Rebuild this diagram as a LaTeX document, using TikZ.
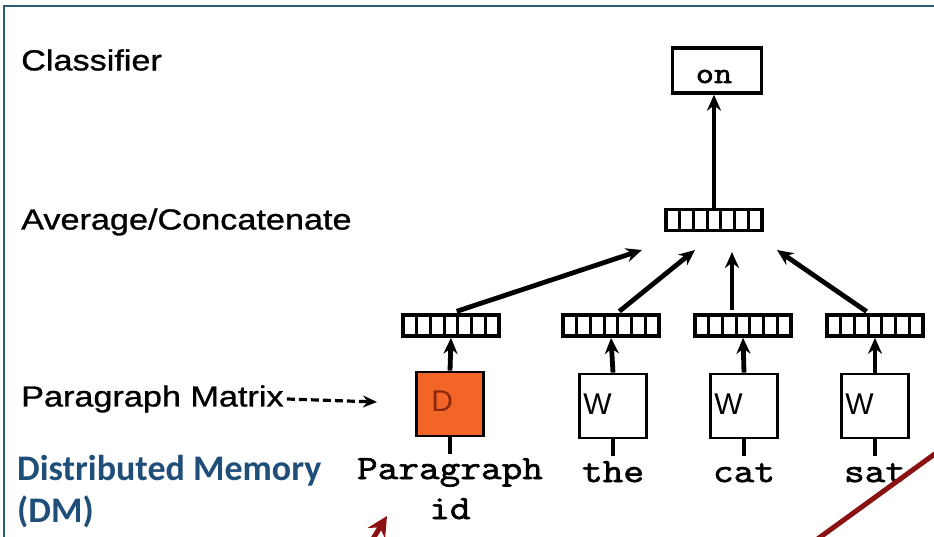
\documentclass[tikz,border=0pt]{standalone}
\usepackage{fontspec}
\setmainfont{Liberation Sans}
\newfontfamily\lblfont[FakeStretch=1.18,FakeBold=1]{Liberation Sans}
\newfontfamily\dmfont{Carlito}
\newfontfamily\wordfont[FakeStretch=1.18,FakeBold=2]{Latin Modern Mono}
\usetikzlibrary{arrows.meta, positioning, calc}
\definecolor{frameteal}{HTML}{2E5C6E}
\definecolor{dmblue}{HTML}{1F4E79}
\definecolor{dorange}{HTML}{F26526}
\definecolor{dletter}{HTML}{8A2A0A}
\definecolor{dred}{HTML}{8B1212}

\begin{document}
\begin{tikzpicture}[x=1pt,y=-1pt,>={Stealth[length=16pt,width=14pt]},
    sidetext/.style={anchor=west,inner sep=0pt,font=\lblfont\fontsize{29}{34}\selectfont},
    word/.style={inner sep=0pt,align=center,font=\wordfont\fontsize{34}{40}\selectfont},
    vec/.style={draw,line width=3.6pt,minimum width=96pt,minimum height=21pt,inner sep=0pt,
      path picture={\foreach \k in {1,...,6}
        \draw[line width=3pt] ($(path picture bounding box.south west)!\k/7!(path picture bounding box.south east)$) -- ++(0pt,30pt);}},
    mat/.style={draw,line width=2.8pt,minimum width=67pt,minimum height=64pt,inner sep=0pt},
    letter/.style={anchor=west,inner sep=0pt,font=\fontsize{30}{30}\selectfont},
    link/.style={line width=4.8pt},
    pointer/.style={draw=dred,line width=5pt,-{Stealth[length=20pt,width=20pt]}}]
  \useasboundingbox (0,0) rectangle (934,537);
  \draw[frameteal,line width=2.5pt] (4,545) -- (4,6) -- (945,6);

  % row labels
  \node[sidetext] (cls) at (21,60) {Classifier};
  \node[sidetext] (avgl) at (21,222) {Average/Concatenate};
  \node[sidetext] (pml) at (21,399) {Paragraph Matrix};
  \coordinate (pmend) at (377,402);
  \draw[->,dashed,dash pattern=on 8pt off 4pt,line width=3.2pt,>={Stealth[length=14pt,width=12pt]}] (pml.east) ++(3pt,0) -- (pmend);
  \node[anchor=base west,inner sep=0pt,text=dmblue,font=\dmfont\bfseries\fontsize{36}{42}\selectfont] (dm) at (17,480) {Distributed Memory};
  \node[anchor=base west,inner sep=0pt,text=dmblue,font=\dmfont\bfseries\fontsize{36}{42}\selectfont] (dmb) at (17,522) {(DM)};

  % network
  \node[draw,line width=3.4pt,minimum width=89pt,minimum height=45pt,inner sep=0pt] (on) at (717,70.5) {};
  \node[word,font=\wordfont\fontsize{30}{30}\selectfont,anchor=base] (onw) at (714,83) {on};
  \node[vec] (avg) at (714,220) {};

  \node[vec] (v1) at (451,325.5) {};
  \node[vec] (v2) at (611,325.5) {};
  \node[vec] (v3) at (743,325.5) {};
  \node[vec] (v4) at (875,325.5) {};

  \node[mat,fill=dorange] (d) at (450,404) {};
  \node[mat] (w1) at (613,406) {};
  \node[mat] (w2) at (744,406) {};
  \node[mat] (w3) at (875,406) {};
  \node[letter,text=dletter] at ($(d.west)+(16,-3)$) {D};
  \foreach \b in {w1,w2,w3}
    \node[letter] at ($(\b.west)+(5,-2)$) {W};

  \node[word,anchor=base] (pid) at (450,519) {Paragraph\\id};
  \node[word,anchor=base] (the) at (613,482) {the};
  \node[word,anchor=base] (cat) at (744,482) {cat};
  \node[word,anchor=base] (sat) at (875,482) {sat};

  % connectors
  \coordinate (t1) at ($(avg)+(-72,30)$);
  \coordinate (t2) at ($(avg)+(-19,30)$);
  \coordinate (t3) at ($(avg)+(18,32)$);
  \coordinate (t4) at ($(avg)+(63,30)$);
  \draw[link,->] (avg.north) -- (avg.north |- on.south);
  \draw[link,->,shorten <=6pt] (v1.north) -- (t1);
  \draw[link,->,shorten <=3pt] ($(v2.north)+(6,0)$) -- (t2);
  \draw[link,->,shorten <=3pt] (t3 |- v3.north) -- (t3);
  \draw[link,->,shorten <=3pt] ($(v4.north)+(-6,0)$) -- (t4);
  \foreach \b/\v in {d/v1,w1/v2,w2/v3,w3/v4} {
    \draw[link,->] (\b.north) -- (\v.south);
    \draw[link] (\b.south) -- ++(0,17);
  }

  % pointers from outside
  \coordinate (p1) at (387,516);
  \coordinate (p1s) at (355,568);
  \draw[pointer] (p1s) -- (p1);
  \coordinate (p2a) at (790,559);
  \coordinate (p2b) at (965,432);
  \draw[draw=dred,line width=5pt] (p2a) -- (p2b);
\end{tikzpicture}
\end{document}
